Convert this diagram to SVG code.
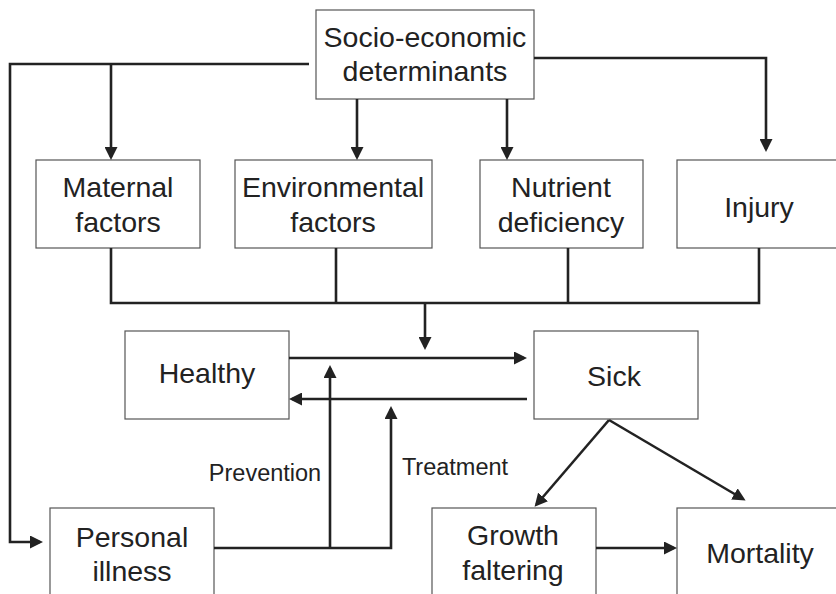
<svg xmlns="http://www.w3.org/2000/svg" width="836" height="594" viewBox="0 0 836 594">
<defs>
<style>
.box{fill:#fff;stroke:#555;stroke-width:1.2}
.t{font-family:"Liberation Sans",Arial,sans-serif;font-size:28.5px;fill:#222;text-anchor:middle}
.s{font-family:"Liberation Sans",Arial,sans-serif;font-size:23.5px;fill:#222;text-anchor:middle}
.c{fill:none;stroke:#222;stroke-width:2.6}
</style>
<marker id="ah" markerUnits="userSpaceOnUse" markerWidth="13" markerHeight="13" refX="10" refY="6.5" orient="auto">
<path d="M0,0 L13,6.5 L0,13 z" fill="#222"/>
</marker>
</defs>
<rect width="836" height="594" fill="#fff"/>
<g id="socio"><rect class="box" x="316" y="10" width="218" height="89"/><text class="t" x="425" y="47">Socio-economic</text><text class="t" x="425" y="81">determinants</text></g>
<g id="maternal"><rect class="box" x="36" y="160" width="164" height="88"/><text class="t" x="118" y="197">Maternal</text><text class="t" x="118" y="232">factors</text></g>
<g id="environmental"><rect class="box" x="235" y="160" width="197" height="88"/><text class="t" x="333" y="197">Environmental</text><text class="t" x="333" y="232">factors</text></g>
<g id="nutrient"><rect class="box" x="480" y="160" width="163" height="88"/><text class="t" x="561" y="197">Nutrient</text><text class="t" x="561" y="232">deficiency</text></g>
<g id="injury"><rect class="box" x="677" y="160" width="170" height="88"/><text class="t" x="759" y="217">Injury</text></g>
<g id="healthy"><rect class="box" x="125" y="331" width="164" height="88"/><text class="t" x="207" y="383">Healthy</text></g>
<g id="sick"><rect class="box" x="534" y="331" width="164" height="88"/><text class="t" x="614" y="386">Sick</text></g>
<g id="personal"><rect class="box" x="50" y="508" width="164" height="100"/><text class="t" x="132" y="547">Personal</text><text class="t" x="132" y="581">illness</text></g>
<g id="growth"><rect class="box" x="432" y="508" width="164" height="100"/><text class="t" x="513" y="545">Growth</text><text class="t" x="513" y="580">faltering</text></g>
<g id="mortality"><rect class="box" x="677" y="508" width="170" height="100"/><text class="t" x="760" y="563">Mortality</text></g>
<g id="connectors">
<polyline class="c" points="309,64 10,64 10,542 40,542" marker-end="url(#ah)"/>
<line class="c" x1="111" y1="64" x2="111" y2="157" marker-end="url(#ah)"/>
<line class="c" x1="357" y1="99" x2="357" y2="157" marker-end="url(#ah)"/>
<line class="c" x1="507" y1="99" x2="507" y2="157" marker-end="url(#ah)"/>
<polyline class="c" points="534,58 766,58 766,149" marker-end="url(#ah)"/>
<polyline class="c" points="111,248 111,303 759,303 759,248"/>
<line class="c" x1="336" y1="248" x2="336" y2="303"/>
<line class="c" x1="568" y1="248" x2="568" y2="303"/>
<line class="c" x1="425" y1="303" x2="425" y2="347" marker-end="url(#ah)"/>
<line class="c" x1="289" y1="358" x2="524" y2="358" marker-end="url(#ah)"/>
<line class="c" x1="527" y1="399" x2="292" y2="399" marker-end="url(#ah)"/>
<polyline class="c" points="214,548 391,548 391,409" marker-end="url(#ah)"/>
<line class="c" x1="330" y1="548" x2="330" y2="368" marker-end="url(#ah)"/>
<line class="c" x1="609" y1="420" x2="536.5" y2="504.5" marker-end="url(#ah)"/>
<line class="c" x1="609" y1="420" x2="743" y2="499" marker-end="url(#ah)"/>
<line class="c" x1="596" y1="548" x2="674" y2="548" marker-end="url(#ah)"/>
</g>
<text class="s" x="265" y="481">Prevention</text>
<text class="s" x="455" y="475">Treatment</text>
</svg>
